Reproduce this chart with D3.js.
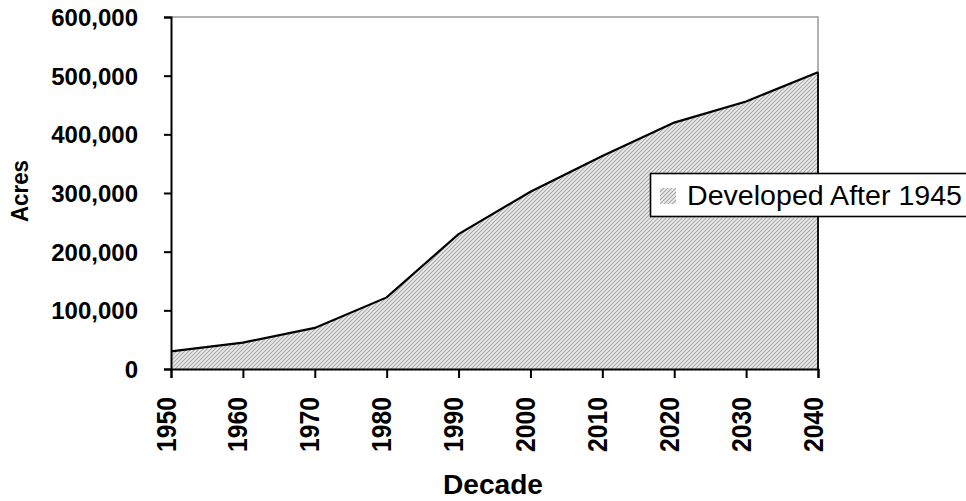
<!DOCTYPE html>
<html><head><meta charset="utf-8">
<script src="https://cdn.jsdelivr.net/npm/d3@7"></script>
<style>body{margin:0;background:#fff}svg{display:block}</style>
</head><body>
<script>
const decades = [1950,1960,1970,1980,1990,2000,2010,2020,2030,2040];
const acres = [30000,45000,70000,122000,230000,302000,363000,420000,456000,506000];
const yTicks = [0,100000,200000,300000,400000,500000,600000];
const seriesName = "Developed After 1945";

const W=966,H=501;
const svg=d3.select("body").append("svg").attr("width",W).attr("height",H);
const defs=svg.append("defs");
const pat=defs.append("pattern").attr("id","hatch").attr("patternUnits","userSpaceOnUse")
  .attr("width",4).attr("height",4);
pat.append("rect").attr("width",4).attr("height",4).attr("fill","#ececec");
pat.append("path").attr("d","M-1,1 l2,-2 M0,4 l4,-4 M3,5 l2,-2").attr("stroke","#a8a8a8").attr("stroke-width",1.1);

const x=d3.scaleLinear().domain([1950,2040]).range([171,818]);
const y=d3.scaleLinear().domain([0,600000]).range([369,17]);

// frame top/right
svg.append("path").attr("d",`M${x(1950)},${y(600000)}H${x(2040)}V${y(0)}`)
  .attr("fill","none").attr("stroke","#999").attr("stroke-width",1.5);

const data=decades.map((d,i)=>({d,v:acres[i]}));
svg.append("path").datum(data)
  .attr("d",d3.area().x(p=>x(p.d)).y0(y(0)).y1(p=>y(p.v)))
  .attr("fill","url(#hatch)");
svg.append("path").datum(data)
  .attr("d",d3.line().x(p=>x(p.d)).y(p=>y(p.v)))
  .attr("fill","none").attr("stroke","#000").attr("stroke-width",2.2);
svg.append("line").attr("x1",x(2040)).attr("x2",x(2040)).attr("y1",y(acres[acres.length-1])).attr("y2",y(0))
  .attr("stroke","#000").attr("stroke-width",1.8);

// y axis
const ya=svg.append("g").attr("transform",`translate(${x(1950)},0)`)
  .call(d3.axisLeft(y).tickValues(yTicks).tickSize(7).tickFormat(d3.format(",")));
ya.select(".domain").attr("stroke","#000").attr("stroke-width",2);
ya.selectAll(".tick line").attr("stroke","#000").attr("stroke-width",2);
ya.selectAll(".tick text").attr("x",-33).attr("dy","0.36em")
  .attr("font-family","Arial, 'Liberation Sans', sans-serif").attr("font-weight","bold")
  .attr("font-size",24).attr("fill","#000");

// x axis
const xa=svg.append("g").attr("transform",`translate(0,${y(0)})`)
  .call(d3.axisBottom(x).tickValues(decades).tickSize(9).tickFormat(d3.format("d")));
xa.select(".domain").attr("stroke","#000").attr("stroke-width",2);
xa.selectAll(".tick line").attr("stroke","#000").attr("stroke-width",2);
xa.selectAll(".tick text").attr("transform","rotate(-90)").attr("text-anchor","end")
  .attr("x",-28).attr("y",4).attr("dy",0)
  .attr("font-family","Arial, 'Liberation Sans', sans-serif").attr("font-weight","bold")
  .attr("font-size",27).attr("textLength",55).attr("lengthAdjust","spacingAndGlyphs").attr("fill","#000");

// axis titles
svg.append("text").attr("transform","translate(28,191) rotate(-90)").attr("text-anchor","middle")
  .attr("font-family","Arial, 'Liberation Sans', sans-serif").attr("font-weight","bold")
  .attr("font-size",24).attr("textLength",62).attr("lengthAdjust","spacingAndGlyphs").text("Acres");
svg.append("text").attr("x",493).attr("y",494).attr("text-anchor","middle")
  .attr("font-family","Arial, 'Liberation Sans', sans-serif").attr("font-weight","bold")
  .attr("font-size",27).attr("textLength",100).attr("lengthAdjust","spacingAndGlyphs").text("Decade");

// legend
const lg=svg.append("g");
lg.append("rect").attr("x",650.5).attr("y",173.5).attr("width",330).attr("height",43)
  .attr("fill","#fff").attr("stroke","#000").attr("stroke-width",1.6);
lg.append("rect").attr("x",660).attr("y",188).attr("width",16).attr("height",16).attr("fill","url(#hatch)");
lg.append("text").attr("x",687).attr("y",205)
  .attr("font-family","Arial, 'Liberation Sans', sans-serif").attr("font-size",27)
  .attr("textLength",275).attr("lengthAdjust","spacingAndGlyphs").text(seriesName);
</script>
</body></html>
